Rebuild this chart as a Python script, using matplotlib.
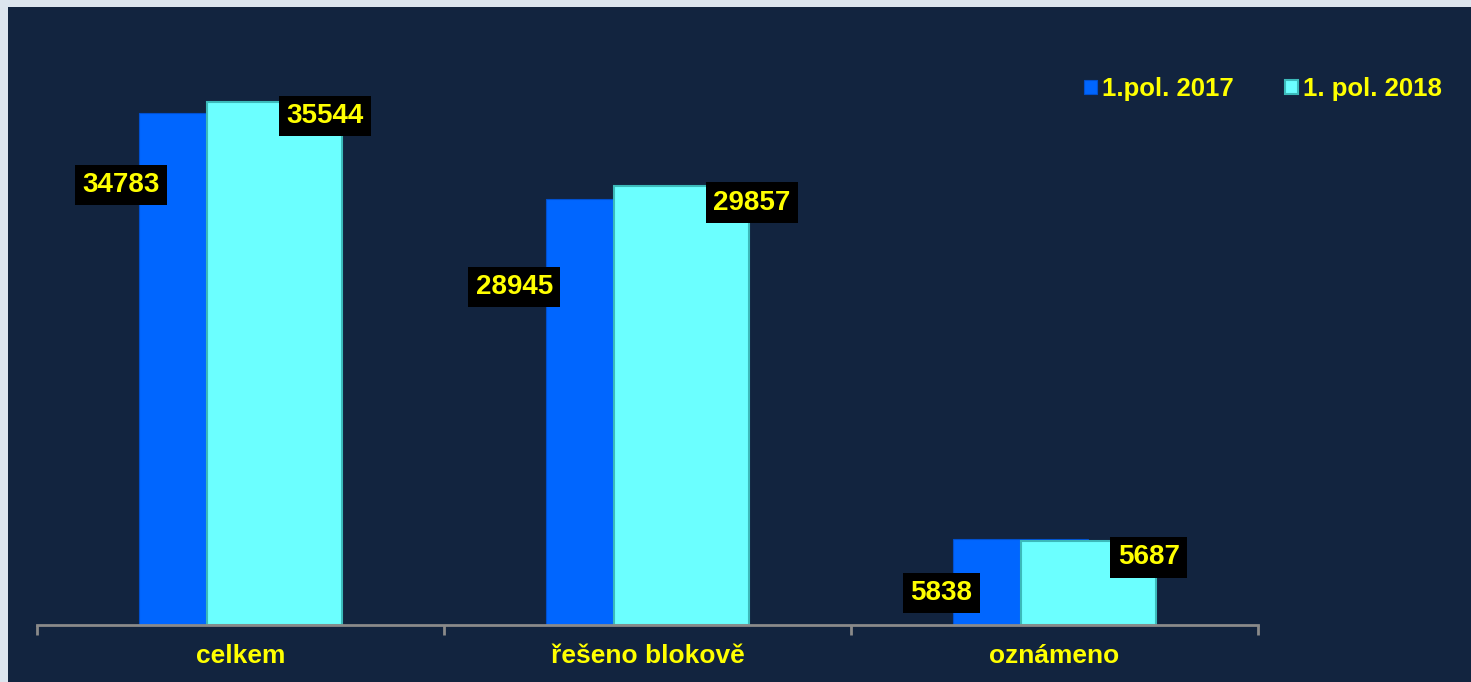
import matplotlib.pyplot as plt
from matplotlib.patches import Rectangle
import numpy as np

categories = ['celkem', 'řešeno blokově', 'oznámeno']
series_names = ['1.pol. 2017', '1. pol. 2018']
values_2017 = [34783, 28945, 5838]
values_2018 = [35544, 29857, 5687]

# label offsets from bar top centre, in pixels
offs_2017 = [(-85, -72), (-99, -88), (-79, -54)]
offs_2018 = [(50, -14), (70, -17), (60, -16)]

navy = '#12243f'
blue = '#0066ff'
cyan = '#6bffff'
yellow = '#ffff00'

plt.rcParams['font.family'] = ['Liberation Sans', 'DejaVu Sans']

fig = plt.figure(figsize=(14.71, 6.82), dpi=100)
fig.patch.set_facecolor('#dde5ee')
fig.patches.append(Rectangle((8 / 1471, 0), 1, 675 / 682, transform=fig.transFigure,
                             facecolor=navy, edgecolor='none', zorder=-10))

ax = fig.add_axes([37 / 1471, 57 / 682, 1221 / 1471, 588.6 / 682])
ax.set_facecolor('none')
ax.set_zorder(1)

x = np.arange(len(categories))
w = 0.332
d = 0.084
b1 = ax.bar(x - d, values_2017, w, color=blue, edgecolor='#0050d0', linewidth=0.8,
            label=series_names[0], zorder=2)
b2 = ax.bar(x + d, values_2018, w, color=cyan, edgecolor='#3cbaba', linewidth=1.5,
            label=series_names[1], zorder=3)

box = dict(boxstyle='square,pad=0.26', facecolor='black', edgecolor='none')
for i in range(len(categories)):
    ax.annotate(str(values_2017[i]), (x[i] - d, values_2017[i]), xytext=offs_2017[i],
                textcoords='offset pixels', ha='center', va='center', color=yellow,
                fontsize=20, fontweight='bold', bbox=box, zorder=5)
    ax.annotate(str(values_2018[i]), (x[i] + d, values_2018[i]), xytext=offs_2018[i],
                textcoords='offset pixels', ha='center', va='center', color=yellow,
                fontsize=20, fontweight='bold', bbox=box, zorder=5)

ax.set_xlim(-0.5, 2.5)
ax.set_ylim(0, 40000)
ax.set_yticks([])
ax.set_xticks(x)
ax.set_xticklabels(categories, color=yellow, fontsize=19, fontweight='bold')
ax.set_xticks([-0.5, 0.5, 1.5, 2.5], minor=True)
ax.tick_params(axis='x', which='major', length=0, pad=14)
ax.tick_params(axis='x', which='minor', length=7, width=2, color='#8a8a8a', direction='out')
for s in ['top', 'right', 'left']:
    ax.spines[s].set_visible(False)
ax.spines['bottom'].set_color('#8a8a8a')
ax.spines['bottom'].set_linewidth(2)
ax.spines['bottom'].set_zorder(4)

leg = fig.legend(handles=[b1, b2], loc='center right', bbox_to_anchor=(1452 / 1471, 1 - 89 / 682),
                 ncol=2, frameon=False, fontsize=18.5, handlelength=0.5, handleheight=0.5,
                 handletextpad=0.2, columnspacing=2.0, borderaxespad=0)
for t in leg.get_texts():
    t.set_color(yellow)
    t.set_fontweight('bold')

fig.savefig('out.png', dpi=100, facecolor=fig.get_facecolor())
